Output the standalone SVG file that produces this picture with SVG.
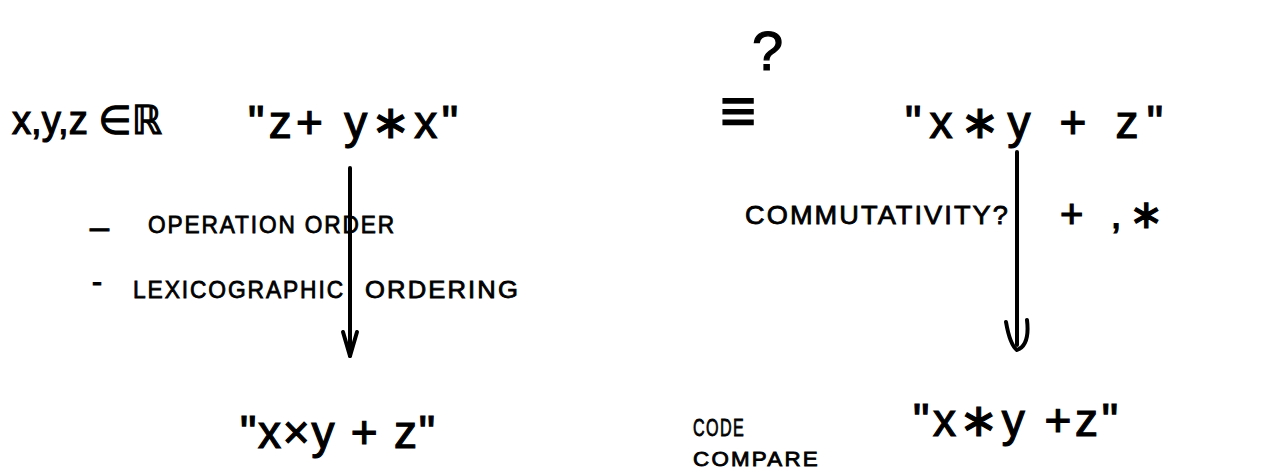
<svg xmlns="http://www.w3.org/2000/svg" width="1274" height="473" viewBox="0 0 1274 473">
<style>
text{font-family:"Liberation Sans","DejaVu Sans",sans-serif;fill:#000;stroke:#000;stroke-width:1.2}
.big{font-size:46px}
.mid{font-size:40px}
.sm{font-size:24px;letter-spacing:2px;stroke-width:0.8}
.conn{stroke:#000;stroke-width:4;fill:none;stroke-linecap:round;stroke-linejoin:round}
</style>
<rect width="1274" height="473" fill="#fff"/>
<g id="domain"><text class="mid" x="12" y="134" textLength="150" lengthAdjust="spacingAndGlyphs">x,y,z ∈ℝ</text></g>
<g id="expr-top-left"><text class="big" x="248" y="138" textLength="210" lengthAdjust="spacing">"z+ y∗x"</text></g>
<g id="equiv"><text x="720" y="132" style="font-size:62px">≡</text><text x="752" y="70" style="font-size:56px">?</text></g>
<g id="expr-top-right"><text class="big" x="905" y="138" textLength="258" lengthAdjust="spacing">"x∗y + z"</text></g>
<g id="notes-left">
<text x="90" y="238" style="font-size:34px">–</text>
<text class="sm" x="148" y="233" textLength="248" lengthAdjust="spacingAndGlyphs">OPERATION ORDER</text>
<text x="92" y="292" style="font-size:30px">-</text>
<text class="sm" x="133" y="298" textLength="212" lengthAdjust="spacingAndGlyphs">LEXICOGRAPHIC</text>
<text class="sm" x="365" y="298" textLength="155" lengthAdjust="spacingAndGlyphs">ORDERING</text>
</g>
<g id="notes-right">
<text class="sm" x="745" y="224" style="font-size:26px" textLength="265" lengthAdjust="spacingAndGlyphs">COMMUTATIVITY?</text>
<text class="mid" x="1060" y="228" textLength="103" lengthAdjust="spacing">+ ,∗</text>
</g>
<g id="expr-bottom-left"><text class="big" x="240" y="448" textLength="195" lengthAdjust="spacing">"x×y + z"</text></g>
<g id="code-compare">
<text class="sm" x="693" y="436" textLength="52" lengthAdjust="spacingAndGlyphs">CODE</text>
<text class="sm" x="693" y="466" style="font-size:20px" textLength="127" lengthAdjust="spacingAndGlyphs">COMPARE</text>
</g>
<g id="expr-bottom-right"><text class="big" x="913" y="436" textLength="205" lengthAdjust="spacing">"x∗y +z"</text></g>
<g id="connectors">
<path class="conn" d="M350 168 V356"/>
<path class="conn" d="M343 332 L350 356 L357 332"/>
<path class="conn" d="M1017 152 V345"/>
<path class="conn" d="M1006 322 Q1010 345 1017 350 Q1030 345 1027 320"/>
</g>
</svg>
